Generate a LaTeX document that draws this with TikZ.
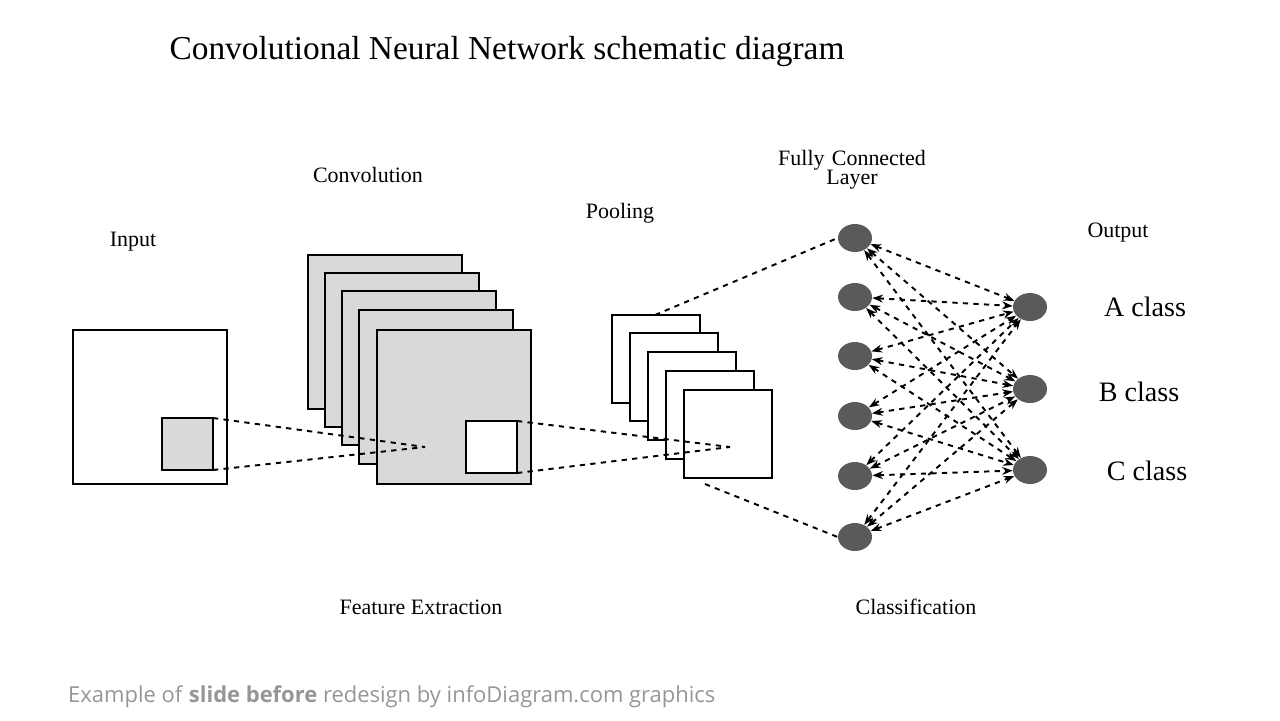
\documentclass[tikz,border=0pt]{standalone}
\usepackage{fontspec}
\setmainfont{Liberation Serif}
\newfontfamily\footfont{Open Sans}
\usetikzlibrary{arrows.meta,shapes.geometric}
\definecolor{featgray}{RGB}{217,217,217}
\definecolor{nodegray}{RGB}{90,90,90}
\definecolor{footgray}{RGB}{150,150,150}

\begin{document}
\begin{tikzpicture}[x=0.02cm, y=-0.02cm,
  sq/.style={draw, line width=0.8pt},
  link/.style={dashed, line width=1.1pt},
  neuron/.style={ellipse, fill=nodegray, minimum width=0.68cm, minimum height=0.56cm, inner sep=0pt},
  lbl/.style={font=\fontsize{12.5}{14}\selectfont, align=center},
  cls/.style={font=\fontsize{16}{18}\selectfont}]

\useasboundingbox (0,0) rectangle (1280,720);

\node [font=\fontsize{19}{22}\selectfont] (title) at (507,52) {Convolutional Neural Network schematic diagram};

% -------- Input -----------
\draw [sq, fill=white] (73,330) rectangle (227,484);
\draw [sq, fill=featgray] (162,418) rectangle (213,470);
\coordinate (inA) at (213,418);
\coordinate (inB) at (213,470);

% -------- Convolution -----------
\foreach \i/\dx/\dy in {0/308/255, 1/325/273, 2/342/291, 3/359/310, 4/377/330}
  \draw [sq, fill=featgray] (\dx,\dy) rectangle +(154,154);
\draw [sq, fill=white] (466,421) rectangle (517,473);
\coordinate (cvA) at (517,421);
\coordinate (cvB) at (517,473);
\coordinate (cvC) at (425,447);

% -------- Pooling -----------
\foreach \i/\dx/\dy in {0/612/315, 1/630/333, 2/648/352, 3/666/371, 4/684/390}
  \draw [sq, fill=white] (\dx,\dy) rectangle +(88,88);
\coordinate (plC) at (730,447);
\coordinate (plT) at (655,315);
\coordinate (plB) at (705,484);

\draw [link] (inA) -- (cvC);
\draw [link] (inB) -- (cvC);
\draw [link] (cvA) -- (plC);
\draw [link] (cvB) -- (plC);

% -------- Fully connected -----------
\foreach \n/\y in {1/238, 2/297, 3/356, 4/416, 5/476, 6/537}
  \node [neuron] (f\n) at (855,\y) {};
\foreach \n/\y in {1/307, 2/389, 3/470}
  \node [neuron] (o\n) at (1030,\y) {};

\draw [link] (plT) -- (f1.west);
\draw [link] (plB) -- (f6.west);
\foreach \f in {1,...,6}
  \foreach \o in {1,2,3}
    \draw [link, {Stealth[length=6pt]}-{Stealth[length=6pt]}] (f\f) -- (o\o);

% -------- Labels -----------
\node [lbl] (linput) at (133,242) {Input};
\node [lbl] (lconv) at (368,175) {Convolution};
\node [lbl] (lpool) at (620,213) {Pooling};
\node [lbl, text width=5cm] (lfc) at (852,170) {Fully Connected\\[-3pt]Layer};
\node [lbl] (lout) at (1118,233) {Output};
\node [cls] (la) at (1145,307) {A class};
\node [cls] (lb) at (1139,392) {B class};
\node [cls] (lc) at (1147,471) {C class};
\node [lbl] (lfeat) at (421,607) {Feature Extraction};
\node [lbl] (lclass) at (916,607) {Classification};

\node [anchor=west, text=footgray, font=\footfont\fontsize{12.5}{14}\selectfont] (foot) at (62,697)
  {Example of \textbf{slide before} redesign by infoDiagram.com graphics};
\end{tikzpicture}
\end{document}
